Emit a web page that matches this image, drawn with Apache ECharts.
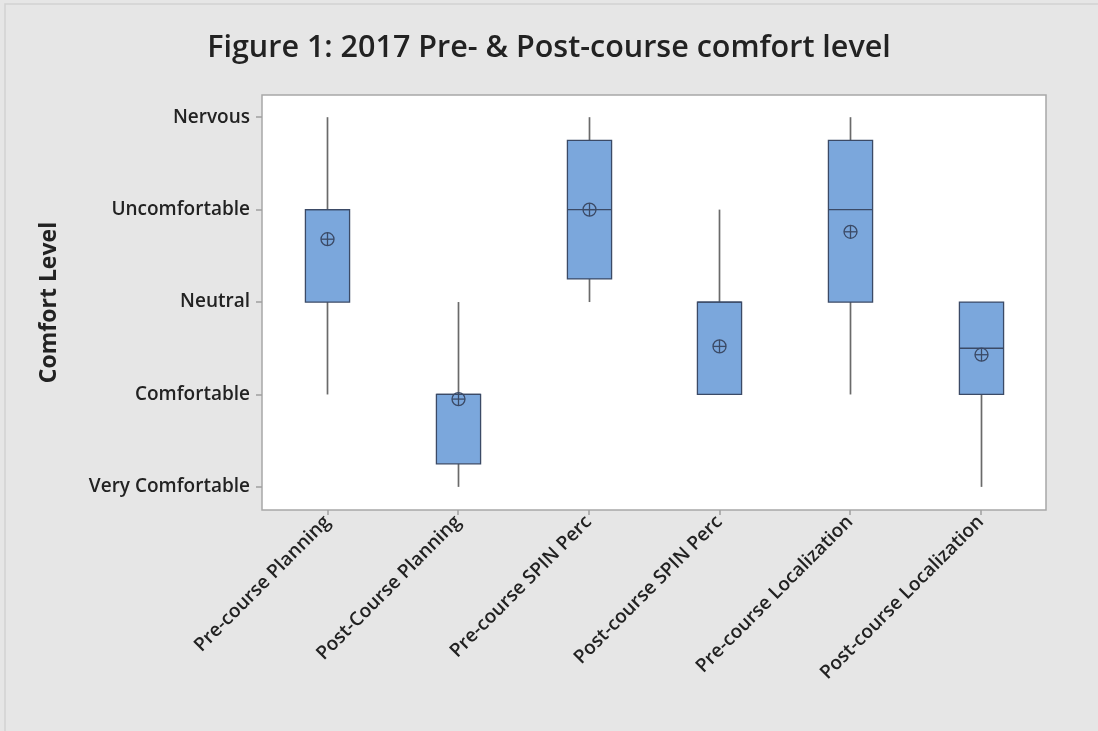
<!DOCTYPE html>
<html>
<head>
<meta charset="utf-8">
<style>
  html, body { margin: 0; padding: 0; background: #e6e6e6; }
  #chart { width: 1098px; height: 731px; }
</style>
<script src="https://cdn.jsdelivr.net/npm/echarts@6/dist/echarts.min.js"></script>
</head>
<body>
<div id="chart"></div>
<script>
// Survey groups on the horizontal axis
const groups = [
  'Pre-course Planning',
  'Post-Course Planning',
  'Pre-course SPIN Perc',
  'Post-course SPIN Perc',
  'Pre-course Localization',
  'Post-course Localization'
];

// Comfort scale (1 = Very Comfortable ... 5 = Nervous)
const levelValues = [1, 2, 3, 4, 5];
const levelNames = ['Very Comfortable', 'Comfortable', 'Neutral', 'Uncomfortable', 'Nervous'];

// Five-number summaries per group
const whiskerLow  = [2, 1,    3,    2, 2,    1];
const quartile1   = [3, 1.25, 3.25, 2, 3,    2];
const medians     = [4, 2,    4,    3, 4,    2.5];
const quartile3   = [4, 2,    4.75, 3, 4.75, 3];
const whiskerHigh = [5, 3,    5,    4, 5,    3];
// Group means (circle-cross marker)
const means       = [3.68, 1.95, 4.0, 2.52, 3.76, 2.43];

const rows = groups.map((g, i) => [i, whiskerLow[i], quartile1[i], medians[i], quartile3[i], whiskerHigh[i], means[i]]);

const BOX_FILL = '#7ba7dc';
const BOX_EDGE = '#3b4a66';
const WHISKER = '#6a6a6a';
const TEXT = '#222222';

function renderBox(params, api) {
  const i = api.value(0);
  const band = api.size([1, 0])[0];
  const half = band * 0.169;
  const pLow = api.coord([i, api.value(1)]);
  const pQ1 = api.coord([i, api.value(2)]);
  const pMed = api.coord([i, api.value(3)]);
  const pQ3 = api.coord([i, api.value(4)]);
  const pHigh = api.coord([i, api.value(5)]);
  const pMean = api.coord([i, api.value(6)]);
  const x = Math.round(pQ1[0]) + 0.5;
  const children = [];
  if (pLow[1] - pQ1[1] > 0.5) {
    children.push({ type: 'line', shape: { x1: x, y1: pQ1[1], x2: x, y2: pLow[1] },
      style: { stroke: WHISKER, lineWidth: 1.7 } });
  }
  if (pQ3[1] - pHigh[1] > 0.5) {
    children.push({ type: 'line', shape: { x1: x, y1: pHigh[1], x2: x, y2: pQ3[1] },
      style: { stroke: WHISKER, lineWidth: 1.7 } });
  }
  children.push({ type: 'rect',
    shape: { x: x - half, y: pQ3[1], width: half * 2, height: pQ1[1] - pQ3[1] },
    style: { fill: BOX_FILL, stroke: BOX_EDGE, lineWidth: 1.3 } });
  children.push({ type: 'line', shape: { x1: x - half, y1: pMed[1], x2: x + half, y2: pMed[1] },
    style: { stroke: BOX_EDGE, lineWidth: 1.3 } });
  const r = 6.5;
  children.push({ type: 'circle', shape: { cx: x, cy: pMean[1], r: r },
    style: { fill: 'none', stroke: BOX_EDGE, lineWidth: 1.3 } });
  children.push({ type: 'line', shape: { x1: x - r, y1: pMean[1], x2: x + r, y2: pMean[1] },
    style: { stroke: BOX_EDGE, lineWidth: 1.3 } });
  children.push({ type: 'line', shape: { x1: x, y1: pMean[1] - r, x2: x, y2: pMean[1] + r },
    style: { stroke: BOX_EDGE, lineWidth: 1.3 } });
  return { type: 'group', children: children };
}

const chart = echarts.init(document.getElementById('chart'), null, { renderer: 'canvas' });

chart.setOption({
  backgroundColor: '#e6e6e6',
  animation: false,
  title: {
    text: 'Figure 1: 2017 Pre- & Post-course comfort level',
    left: 'center',
    top: 28,
    textStyle: { fontFamily: 'Open Sans', fontSize: 30.5, fontWeight: 600, color: TEXT }
  },
  graphic: [
    { type: 'rect', shape: { x: 5, y: 4, width: 1100, height: 740 },
      style: { fill: 'none', stroke: '#d2d2d2', lineWidth: 1.5 }, silent: true }
  ],
  grid: {
    left: 262, right: 52, top: 95, bottom: 221,
    show: true, backgroundColor: '#ffffff', borderColor: '#a8a8a8', borderWidth: 1.5
  },
  xAxis: {
    type: 'category',
    data: groups,
    boundaryGap: true,
    axisLine: { show: false },
    axisTick: { show: true, alignWithLabel: true, length: 5, lineStyle: { color: '#a0a0a0', width: 1.5 } },
    axisLabel: {
      rotate: 45, margin: 9, interval: 0,
      fontFamily: 'Open Sans', fontSize: 19, fontWeight: 600, color: TEXT
    },
    splitLine: { show: false }
  },
  yAxis: {
    type: 'value',
    min: 0.75,
    max: 5.24,
    name: 'Comfort Level',
    nameLocation: 'middle',
    nameGap: 201,
    nameRotate: 90,
    nameTextStyle: { fontFamily: 'Open Sans', fontSize: 23, fontWeight: 'bold', color: TEXT },
    axisLine: { show: false },
    axisTick: { show: true, length: 6, customValues: levelValues, lineStyle: { color: '#a0a0a0', width: 1.5 } },
    axisLabel: {
      customValues: levelValues,
      margin: 12,
      fontFamily: 'Open Sans', fontSize: 19, fontWeight: 600, color: TEXT,
      formatter: v => levelNames[Math.round(v) - 1] || ''
    },
    splitLine: { show: false }
  },
  series: [{
    type: 'custom',
    renderItem: renderBox,
    encode: { x: 0, y: [1, 2, 3, 4, 5, 6] },
    data: rows
  }]
});
</script>
</body>
</html>
